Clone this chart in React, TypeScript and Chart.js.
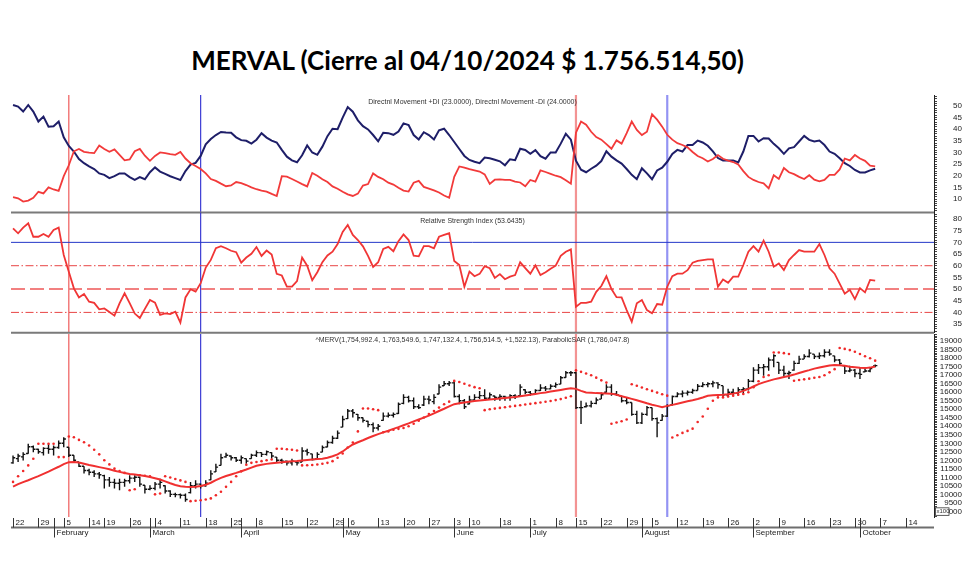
import React, { useEffect, useRef } from "react";
import { Chart, registerables } from "chart.js";

Chart.register(...registerables);

// ---------------- DATA (one entry per trading day, from 22 Jan 2024 to 04 Oct 2024) ----------------
const diPlus = [
  50.4, 49.7, 47.6, 50.4, 47.6, 43.3, 45.4, 41.1, 41.3, 43.3,
  36.5, 32.8, 30.4, 27.2, 25.4, 24.0, 22.9, 21.0, 20.4, 19.0,
  19.8, 21.0, 21.0, 19.4, 18.2, 19.4, 18.5, 21.5, 23.6, 21.8,
  20.8, 19.8, 19.0, 18.2, 22.0, 24.8, 25.5, 28.5, 33.5, 35.8,
  37.5, 38.8, 38.6, 38.5, 36.5, 35.3, 35.0, 33.8, 35.5, 38.3,
  36.4, 35.1, 34.3, 31.1, 28.2, 26.6, 25.8, 28.8, 33.0, 30.0,
  29.0, 32.5, 37.0, 40.2, 40.0, 45.0, 49.5, 47.5, 43.8, 41.3,
  39.9, 37.5, 34.8, 38.5, 38.3, 37.6, 39.0, 42.5, 41.8, 37.5,
  35.6, 38.7, 37.5, 35.6, 39.5, 40.2, 37.5, 34.5, 31.5, 28.5,
  26.8, 26.0, 25.4, 27.8, 27.5, 26.9, 26.2, 24.5, 27.1, 26.7,
  31.6, 31.1, 29.4, 31.0, 28.4, 27.3, 30.0, 30.0, 33.8, 38.0,
  35.5, 26.5, 22.6, 21.5, 23.0, 24.3, 26.3, 30.5, 28.2, 26.6,
  25.2, 22.9, 20.4, 18.5, 23.2, 21.0, 18.5, 22.3, 23.5, 26.0,
  29.4, 31.1, 30.4, 33.2, 33.2, 35.1, 34.3, 32.9, 30.5, 27.6,
  26.6, 26.6, 26.6, 25.7, 30.4, 37.1, 37.1, 34.7, 36.1, 36.0,
  33.7, 31.8, 29.4, 31.8, 32.3, 34.7, 37.1, 35.4, 34.7, 35.1,
  33.2, 30.4, 29.4, 27.5, 25.4, 24.2, 22.5, 21.4, 21.4, 22.3,
  23.0,
];

const diMinus = [
  10.8, 10.3, 8.9, 9.3, 10.5, 13.1, 12.4, 15.0, 14.1, 13.5,
  19.8, 24.5, 30.5, 31.5, 30.3, 29.9, 29.7, 33.0, 31.5, 30.3,
  31.3, 29.0, 26.6, 27.0, 30.5, 31.5, 28.6, 26.4, 28.5, 30.0,
  29.7, 29.3, 29.0, 30.2, 27.4, 25.4, 24.2, 22.9, 21.0, 18.6,
  17.8, 16.6, 15.5, 15.8, 17.3, 16.8, 16.0, 15.0, 14.2, 13.6,
  13.2, 12.2, 11.3, 19.8, 19.6, 18.6, 17.5, 16.4, 15.4, 21.2,
  20.0, 18.5, 17.3, 15.4, 14.4, 13.1, 12.0, 11.3, 12.3, 15.8,
  16.4, 21.0, 19.5, 18.5, 17.0, 16.2, 14.8, 13.6, 13.2, 17.0,
  17.8, 15.2, 14.5, 13.7, 12.8, 11.5, 10.5, 19.5, 24.0, 23.5,
  22.8, 22.3, 21.8, 20.6, 16.5, 18.3, 18.4, 18.2, 18.2, 17.5,
  17.1, 15.5, 18.2, 17.5, 22.3, 21.6, 20.8, 20.0, 19.4, 18.1,
  16.6, 38.5, 43.3, 41.9, 38.9, 36.6, 35.5, 33.6, 31.6, 35.2,
  33.8, 38.3, 43.3, 39.7, 37.5, 38.9, 46.4, 44.1, 41.1, 37.6,
  35.5, 34.0, 33.2, 32.2, 30.2, 28.5, 27.5, 26.1, 27.2, 28.9,
  27.3, 26.5, 25.9, 24.8, 22.0, 19.5, 18.2, 17.3, 16.7, 14.6,
  20.2, 18.6, 23.3, 21.5, 20.7, 19.5, 18.6, 20.2, 18.3, 17.6,
  18.2, 20.4, 20.4, 22.7, 27.4, 26.6, 28.9, 27.4, 26.4, 24.3,
  24.0,
];

const rsi = [
  76.0, 73.9, 76.3, 78.2, 72.4, 72.4, 73.6, 72.4, 75.3, 76.3,
  64.6, 57.4, 50.3, 46.4, 47.9, 44.6, 44.1, 41.3, 41.7, 40.2,
  38.6, 43.9, 48.2, 44.0, 39.5, 37.6, 41.5, 45.3, 44.2, 38.9,
  39.6, 39.3, 40.3, 35.6, 46.4, 49.9, 48.9, 52.5, 59.2, 62.5,
  67.5, 68.4, 67.5, 66.4, 65.8, 61.3, 63.5, 65.1, 68.0, 64.2,
  66.5, 64.8, 56.5, 55.8, 51.0, 51.0, 53.4, 63.5, 60.0, 53.8,
  57.2, 61.5, 64.4, 66.0, 69.3, 74.5, 77.5, 73.2, 71.0, 68.3,
  64.2, 59.5, 61.5, 67.2, 68.1, 66.2, 70.5, 73.4, 71.0, 64.3,
  64.0, 68.4, 68.4, 67.5, 72.4, 73.2, 73.9, 62.0, 60.3, 51.0,
  57.5, 55.5, 56.5, 59.8, 58.9, 54.8, 56.4, 54.2, 55.3, 56.0,
  61.5, 59.0, 56.6, 60.2, 56.0, 57.2, 58.7, 60.0, 64.2, 66.0,
  67.0, 42.4, 44.1, 44.1, 44.6, 48.8, 51.3, 55.5, 50.0, 46.5,
  46.4, 41.0, 36.0, 43.9, 45.3, 41.0, 39.6, 43.6, 43.3, 51.0,
  55.5, 56.6, 56.6, 58.1, 61.3, 62.1, 62.4, 62.7, 62.7, 51.0,
  54.1, 52.7, 55.3, 55.3, 60.3, 66.0, 68.4, 66.0, 70.7, 66.0,
  59.6, 61.0, 58.1, 62.4, 64.6, 66.7, 66.0, 66.0, 66.0, 69.3,
  64.6, 58.9, 56.6, 52.3, 48.0, 49.7, 45.7, 50.4, 48.6, 53.9,
  53.6,
];

// ^MERV prices (x100)
const opens = [
  11850, 12100, 12200, 12400, 12800, 12650, 12450, 12700, 12650, 12750,
  13000, 12770, 12300, 11900, 11650, 11400, 11300, 11200, 11100, 10850,
  10700, 10650, 10700, 10800, 10950, 11000, 10530, 10300, 10350, 10600,
  10500, 10200, 10000, 9980, 9950, 10100, 10500, 10600, 10500, 10850,
  11320, 11700, 12200, 12250, 12150, 12000, 12100, 12100, 12300, 12450,
  12350, 12450, 12190, 12000, 11950, 11850, 11900, 11900, 12550, 12380,
  12100, 12480, 12780, 13050, 13300, 13950, 14450, 14900, 14700, 14500,
  14300, 14100, 13900, 14350, 14600, 14650, 14750, 15350, 15700, 15500,
  15150, 15250, 15600, 15450, 15900, 16380, 16500, 16550, 15750, 15500,
  15310, 15550, 15700, 15800, 15650, 15780, 15700, 15750, 15700, 15800,
  15800, 16150, 16000, 15900, 16100, 16250, 16200, 16350, 16480, 16870,
  17150, 17150, 15100, 15150, 15200, 15350, 15600, 16000, 16300, 15900,
  15780, 15500, 15400, 14700, 14200, 14700, 15100, 14450, 14350, 14600,
  15250, 15750, 15900, 15950, 16000, 16100, 16350, 16450, 16500, 16550,
  16390, 15850, 16000, 15950, 16150, 16200, 16650, 17300, 17450, 17500,
  17900, 17760, 17300, 17100, 17300, 17700, 17950, 18100, 18240, 18100,
  18150, 18350, 18140, 17900, 17550, 17250, 17300, 17100, 17200, 17250,
  17550,
];

const highs = [
  12290, 12380, 12480, 12970, 12870, 12680, 12770, 12970, 12870, 13160,
  13360, 12770, 12300, 11900, 11650, 11500, 11410, 11310, 11150, 11020,
  10920, 10920, 10920, 11120, 11120, 11020, 10540, 10540, 10730, 10920,
  10540, 10240, 10100, 10050, 10050, 10730, 10830, 10630, 10830, 11410,
  11800, 12380, 12450, 12290, 12190, 12290, 12100, 12390, 12580, 12480,
  12580, 12480, 12190, 12090, 11990, 12090, 11900, 12770, 12680, 12390,
  12480, 12870, 13160, 13450, 13750, 14620, 15010, 15010, 14720, 14520,
  14330, 14230, 14140, 14810, 14810, 14810, 15400, 15890, 15790, 15690,
  15300, 15790, 15790, 15890, 16470, 16670, 16670, 16670, 15890, 15600,
  15790, 15890, 16080, 16180, 15980, 15790, 15890, 15790, 15890, 15890,
  16470, 16180, 16080, 16180, 16470, 16370, 16470, 16570, 16960, 17250,
  17250, 17200, 15500, 15400, 15500, 15690, 15980, 16470, 16470, 16080,
  15790, 15690, 15400, 14910, 14810, 15200, 15110, 14520, 14720, 15300,
  15810, 16000, 16100, 16100, 16200, 16490, 16590, 16590, 16680, 16590,
  16390, 16200, 16200, 16300, 16300, 16780, 17470, 17660, 17660, 18050,
  18240, 17760, 17560, 17270, 17850, 18140, 18240, 18530, 18240, 18340,
  18530, 18530, 18140, 17950, 17560, 17560, 17370, 17470, 17470, 17470,
  17635,
];

const lows = [
  11800, 11900, 11990, 12380, 12480, 12380, 12290, 12380, 12290, 12680,
  12770, 12190, 11900, 11600, 11220, 11120, 11020, 10920, 10340, 10440,
  10340, 10240, 10440, 10630, 10730, 10440, 10050, 10240, 10240, 10340,
  10050, 9850, 9830, 9760, 9560, 10050, 10340, 10340, 10440, 10830,
  11310, 11700, 12150, 11990, 11900, 11800, 11800, 12090, 12190, 12190,
  12290, 12090, 11900, 11800, 11700, 11700, 11700, 11900, 12290, 11990,
  12090, 12480, 12770, 12970, 13260, 13940, 14430, 14520, 14330, 14230,
  13940, 13650, 13750, 14330, 14520, 14520, 14720, 15300, 15400, 15010,
  15010, 15200, 15300, 15300, 15890, 16370, 16370, 15690, 15300, 15010,
  15300, 15500, 15600, 15500, 15600, 15500, 15500, 15500, 15500, 15600,
  15790, 15890, 15790, 15890, 16080, 16080, 16180, 16270, 16470, 16860,
  16960, 15010, 14140, 15110, 15110, 15300, 15600, 15980, 15790, 15790,
  15400, 15300, 14620, 14140, 14140, 14620, 14330, 13360, 14330, 14550,
  15220, 15710, 15710, 15810, 15910, 16100, 16300, 16300, 16300, 16200,
  15710, 15710, 15810, 15810, 15910, 16100, 16590, 17070, 16970, 17270,
  17470, 17070, 16880, 16780, 17270, 17660, 17950, 18050, 17950, 17950,
  18050, 18140, 17760, 17560, 17070, 17170, 16880, 16780, 17170, 17170,
  17471,
];

const closes = [
  12150, 12250, 12350, 12800, 12650, 12500, 12700, 12650, 12750, 13000,
  13250, 12300, 12000, 11650, 11400, 11300, 11200, 11150, 10850, 10700,
  10650, 10700, 10800, 10950, 11000, 10600, 10300, 10350, 10600, 10700,
  10200, 10000, 9980, 9950, 9700, 10500, 10600, 10500, 10650, 11200,
  11600, 12150, 12300, 12150, 12000, 12150, 11950, 12300, 12450, 12350,
  12500, 12250, 12000, 11950, 11850, 11950, 11850, 12550, 12450, 12050,
  12350, 12750, 13050, 13300, 13600, 14400, 14900, 14800, 14500, 14350,
  14100, 13900, 14000, 14600, 14650, 14700, 15300, 15700, 15500, 15150,
  15100, 15600, 15550, 15700, 16300, 16500, 16550, 15750, 15500, 15150,
  15550, 15700, 15800, 15650, 15850, 15700, 15750, 15700, 15800, 15750,
  16300, 16000, 15900, 16100, 16250, 16200, 16350, 16450, 16850, 17150,
  17150, 15100, 15100, 15200, 15350, 15550, 15850, 16300, 15900, 15850,
  15500, 15400, 14700, 14200, 14700, 15100, 14450, 14200, 14600, 15200,
  15750, 15900, 15950, 16000, 16100, 16350, 16450, 16500, 16550, 16450,
  15850, 16000, 15950, 16150, 16200, 16650, 17300, 17450, 17500, 17900,
  18150, 17300, 17100, 17150, 17700, 17950, 18100, 18300, 18100, 18150,
  18350, 18250, 17900, 17700, 17250, 17300, 17100, 17050, 17250, 17400,
  17565,
];

const movingAverage = [
  10450, 10600, 10720, 10830, 10950, 11070, 11200, 11330, 11480, 11620,
  11780, 11890, 11900, 11870, 11800, 11720, 11660, 11600, 11540, 11470,
  11390, 11320, 11250, 11200, 11160, 11120, 11080, 11020, 10950, 10870,
  10760, 10650, 10550, 10470, 10440, 10430, 10440, 10490, 10560, 10680,
  10830, 10970, 11080, 11170, 11260, 11360, 11460, 11570, 11680, 11740,
  11790, 11830, 11860, 11890, 11920, 11940, 11960, 11990, 12020, 12050,
  12070, 12090, 12150, 12240, 12350, 12520, 12740, 12930, 13060, 13180,
  13310, 13430, 13540, 13640, 13740, 13850, 13950, 14060, 14170, 14290,
  14400, 14510, 14630, 14760, 14900, 15030, 15170, 15300, 15350, 15400,
  15440, 15480, 15510, 15540, 15570, 15600, 15630, 15660, 15690, 15720,
  15760, 15810, 15850, 15900, 15950, 15990, 16040, 16090, 16140, 16190,
  16240, 16200, 16080, 15990, 15970, 15950, 15940, 15930, 15920, 15850,
  15770, 15690, 15610, 15530, 15440, 15350, 15270, 15200, 15120, 15200,
  15260, 15330, 15400, 15470, 15530, 15600, 15690, 15790, 15820, 15840,
  15850, 15880, 15920, 15980, 16080, 16200, 16340, 16480, 16580, 16670,
  16760, 16830, 16900, 16960, 17040, 17130, 17220, 17300, 17390, 17460,
  17520, 17570, 17600, 17590, 17560, 17500, 17470, 17440, 17420, 17450,
  17520,
];

const parabolicSar = [
  10730, 11060, 11370, 11700, 12090, 12970, 12970, 12970, 12970, 12190,
  12190, 13400, 13360, 13200, 13060, 12870, 12620, 12350, 12000, 11760,
  11510, 11370, 11260, 10240, 10300, 11120, 11090, 11060, 10000, 10050,
  11060, 10990, 10900, 10820, 10730, 9600, 9620, 9650, 9700, 9760,
  9950, 10150, 10440, 10730, 11060, 11350, 11740, 11850, 11900, 11950,
  12000, 12050, 12680, 12680, 12650, 12620, 12580, 11700, 11710, 11720,
  11750, 11800, 11850, 11950, 12150, 12400, 12750, 13050, 13700, 15050,
  15050, 15000, 14950, 13650, 13700, 13800, 13850, 13900, 14000, 14150,
  14330, 14520, 14720, 14900, 15100, 15300, 15450, 16670, 16600, 16500,
  16400, 16300, 16240, 14950, 15000, 15040, 15080, 15120, 15160, 15200,
  15240, 15280, 15320, 15360, 15400, 15440, 15490, 15540, 15600, 15680,
  15770, 17290, 17200, 17100, 17000, 16860, 16700, 16570, 14150, 14220,
  14300, 14400, 16470, 16380, 16280, 16180, 16080, 15980, 15880, 15800,
  13340, 13470, 13610, 13730, 13860, 14250, 14580, 15030, 15500, 15700,
  15700, 15750, 15800, 15850, 15900, 16000, 16300, 16650, 16900, 17000,
  18340, 18340, 18300, 18250, 16680, 16720, 16760, 16800, 16850, 16900,
  17000, 17170, 17360, 18600, 18550, 18480, 18380, 18250, 18120, 18000,
  17860,
];

// axis: [trading-day index, label]
const weekTicks: [number, string][] = [
  [0, "22"], [5, "29"], [10, "5"], [15, "14"], [18, "19"], [23, "26"],
  [28, "4"], [33, "11"], [38, "18"], [43, "25"], [48, "8"], [53, "15"],
  [58, "22"], [63, "29"], [66, "6"], [72, "13"], [77, "20"], [82, "27"],
  [87, "3"], [90, "10"], [96, "18"], [102, "1"], [107, "8"], [111, "15"],
  [116, "22"], [121, "29"], [126, "5"], [131, "12"], [136, "19"], [141, "26"],
  [146, "2"], [151, "9"], [156, "16"], [161, "23"], [166, "30"], [171, "7"],
  [176, "14"],
];
const monthTicks: [number, string][] = [
  [8, "February"], [27, "March"], [45, "April"], [65, "May"], [87, "June"],
  [102, "July"], [124, "August"], [146, "September"], [167, "October"],
];
const markerDays = [11, 37, 111, 129];
const rsiLevels = [70, 60, 50, 40];

const dmiTitle = "Directnl Movement +DI (23.0000), Directnl Movement -DI (24.0000)";
const rsiTitle = "Relative Strength Index (53.6435)";
const priceTitle =
  "^MERV(1,754,992.4, 1,763,549.6, 1,747,132.4, 1,756,514.5, +1,522.13), ParabolicSAR (1,786,047.8)";
const mainTitle = "MERVAL (Cierre al 04/10/2024 $ 1.756.514,50)";

// ---------------- STYLES ----------------
const X_MIN = -0.4;
const X_MAX = 181.6;
const FONT = "'Liberation Sans', Arial, sans-serif";
const markerStyles = [
  { color: "#ef5b5b", width: 1.2 },
  { color: "#2b2bd0", width: 1.1 },
  { color: "rgba(240,120,120,0.8)", width: 2.2 },
  { color: "rgba(120,120,240,0.8)", width: 2.2 },
];
const rsiLevelStyles = [
  { color: "#2236c8", width: 1, dash: [] as number[] },
  { color: "#e84545", width: 1, dash: [8, 2.5, 1.5, 2.5] },
  { color: "#f28080", width: 2, dash: [14, 5] },
  { color: "#e84545", width: 1, dash: [8, 2.5, 1.5, 2.5] },
];

const toPoints = (values: number[]) => values.map((v, i) => ({ x: i, y: v }));

const markersPlugin = {
  id: "markers",
  beforeDatasetsDraw(chart: any) {
    const { ctx, chartArea, scales } = chart;
    ctx.save();
    markerDays.forEach((d, k) => {
      const px = scales.x.getPixelForValue(d);
      ctx.strokeStyle = markerStyles[k].color;
      ctx.lineWidth = markerStyles[k].width;
      ctx.beginPath();
      ctx.moveTo(px, chartArea.top);
      ctx.lineTo(px, chartArea.bottom);
      ctx.stroke();
    });
    ctx.restore();
  },
};

const separatorPlugin = {
  id: "separator",
  afterDraw(chart: any) {
    const { ctx, chartArea } = chart;
    ctx.save();
    ctx.strokeStyle = "#7a7a7a";
    ctx.lineWidth = 2;
    ctx.beginPath();
    ctx.moveTo(chartArea.left, chartArea.bottom);
    ctx.lineTo(chartArea.right, chartArea.bottom);
    ctx.stroke();
    ctx.restore();
  },
};

const rsiLevelsPlugin = {
  id: "rsiLevels",
  beforeDatasetsDraw(chart: any) {
    const { ctx, chartArea, scales } = chart;
    ctx.save();
    rsiLevels.forEach((lvl, k) => {
      const st = rsiLevelStyles[k];
      const py = scales.y.getPixelForValue(lvl);
      ctx.strokeStyle = st.color;
      ctx.lineWidth = st.width;
      ctx.setLineDash(st.dash);
      ctx.beginPath();
      ctx.moveTo(chartArea.left, py);
      ctx.lineTo(chartArea.right, py);
      ctx.stroke();
    });
    ctx.restore();
  },
};

const ohlcPlugin = {
  id: "ohlc",
  beforeDatasetsDraw(chart: any) {
    const { ctx, scales } = chart;
    const { x, y } = scales;
    ctx.save();
    ctx.strokeStyle = "#111";
    ctx.lineWidth = 1.4;
    ctx.beginPath();
    for (let i = 0; i < closes.length; i++) {
      const px = x.getPixelForValue(i);
      ctx.moveTo(px, y.getPixelForValue(highs[i]));
      ctx.lineTo(px, y.getPixelForValue(lows[i]));
      const yo = y.getPixelForValue(opens[i]);
      ctx.moveTo(px - 2.2, yo);
      ctx.lineTo(px, yo);
      const yc = y.getPixelForValue(closes[i]);
      ctx.moveTo(px, yc);
      ctx.lineTo(px + 2.2, yc);
    }
    ctx.stroke();
    ctx.restore();
  },
};

const dateAxisPlugin = {
  id: "dateAxis",
  afterDraw(chart: any) {
    const { ctx, chartArea, scales } = chart;
    const x = scales.x;
    const top = chartArea.bottom;
    const axisY = top + 10.5;
    ctx.save();
    ctx.strokeStyle = "#6e6e6e";
    ctx.lineWidth = 2;
    ctx.beginPath();
    ctx.moveTo(chartArea.left, axisY);
    ctx.lineTo(chartArea.right, axisY);
    ctx.stroke();

    ctx.strokeStyle = "#333";
    ctx.lineWidth = 1;
    ctx.fillStyle = "#222";
    ctx.font = `8px ${FONT}`;
    ctx.textAlign = "left";
    ctx.textBaseline = "middle";
    weekTicks.forEach(([d, label]) => {
      const px = Math.round(x.getPixelForValue(d)) + 0.5;
      ctx.beginPath();
      ctx.moveTo(px, top + 1);
      ctx.lineTo(px, axisY);
      ctx.stroke();
      ctx.fillText(label, px + 2, top + 5.5);
    });
    monthTicks.forEach(([d, label]) => {
      const px = Math.round(x.getPixelForValue(d)) + 0.5;
      ctx.beginPath();
      ctx.moveTo(px, top + 1);
      ctx.lineTo(px, axisY + 10);
      ctx.stroke();
      ctx.fillText(label, px + 2, axisY + 5.5);
    });

    // x100 multiplier box
    const bx = chartArea.right + 1;
    const by = scales.y.getPixelForValue(9000) - 4;
    ctx.fillStyle = "#fff";
    ctx.fillRect(bx, by, 14, 8);
    ctx.strokeStyle = "#333";
    ctx.lineWidth = 0.8;
    ctx.strokeRect(bx + 0.5, by + 0.5, 13.5, 7.5);
    ctx.fillStyle = "#333";
    ctx.font = `6px ${FONT}`;
    ctx.fillText("x100", bx + 1.5, by + 4.3);
    ctx.restore();
  },
};

function yAxis(min: number, max: number, step: number, labelMin: number, labelMax: number, labelStep: number, pad: number) {
  const values: number[] = [];
  for (let v = Math.ceil(min / step) * step; v <= max; v += step) values.push(v);
  return {
    type: "linear",
    position: "right",
    min,
    max,
    afterBuildTicks: (s: any) => {
      s.ticks = values.map((v) => ({ value: v }));
    },
    afterFit: (s: any) => {
      s.width = 28;
      s.paddingTop = 0;
      s.paddingBottom = 0;
    },
    ticks: {
      autoSkip: false,
      crossAlign: "far",
      padding: pad,
      color: "#222",
      font: { family: FONT, size: 8 },
      callback: (v: any) => {
        const n = Number(v);
        return n >= labelMin && n <= labelMax && Math.abs(n % labelStep) < 1e-6 ? String(n) : "";
      },
    },
    grid: { drawOnChartArea: false, drawTicks: true, tickLength: 3, color: "#444", lineWidth: 1 },
    border: { display: true, color: "#222", width: 1 },
  };
}

function baseOptions(padTop: number, padBottom: number, y: any) {
  return {
    responsive: false,
    animation: false,
    devicePixelRatio: 1,
    events: [],
    layout: { padding: { left: 11, right: 18, top: padTop, bottom: padBottom } },
    plugins: { legend: { display: false }, tooltip: { enabled: false }, title: { display: false } },
    scales: {
      x: { type: "linear", min: X_MIN, max: X_MAX, display: false },
      y,
    },
  } as any;
}

function buildDmi(canvas: HTMLCanvasElement) {
  return new Chart(canvas, {
    type: "line",
    data: {
      datasets: [
        { data: toPoints(diMinus), borderColor: "#f23a3a", borderWidth: 1.8, pointRadius: 0, tension: 0 },
        { data: toPoints(diPlus), borderColor: "#1e1e68", borderWidth: 2, pointRadius: 0, tension: 0 },
      ],
    },
    options: baseOptions(7, 3.5, yAxis(4.2, 54.7, 1, 10, 50, 5, 16)),
    plugins: [markersPlugin, separatorPlugin],
  } as any);
}

function buildRsi(canvas: HTMLCanvasElement) {
  return new Chart(canvas, {
    type: "line",
    data: {
      datasets: [{ data: toPoints(rsi), borderColor: "#f03535", borderWidth: 1.8, pointRadius: 0, tension: 0 }],
    },
    options: baseOptions(2.5, 3.3, yAxis(31.3, 82.8, 1, 35, 80, 5, 16)),
    plugins: [markersPlugin, rsiLevelsPlugin, separatorPlugin],
  } as any);
}

function buildPrice(canvas: HTMLCanvasElement) {
  return new Chart(canvas, {
    type: "line",
    data: {
      datasets: [
        { data: toPoints(movingAverage), borderColor: "#f03030", borderWidth: 2, pointRadius: 0, tension: 0 },
        {
          data: toPoints(parabolicSar),
          showLine: false,
          pointRadius: 1.3,
          pointBorderWidth: 0,
          pointBackgroundColor: "#f02828",
          borderColor: "#f02828",
        },
      ],
    },
    options: baseOptions(2.7, 46, yAxis(8667, 19426, 100, 9000, 19000, 500, 2.8)),
    plugins: [markersPlugin, ohlcPlugin, dateAxisPlugin],
  } as any);
}

function Panel({ top, height, build }: { top: number; height: number; build: (c: HTMLCanvasElement) => Chart }) {
  const ref = useRef<HTMLCanvasElement>(null);
  useEffect(() => {
    const chart = build(ref.current as HTMLCanvasElement);
    return () => chart.destroy();
  }, []);
  return (
    <canvas
      ref={ref}
      width={980}
      height={height}
      style={{ position: "absolute", left: 0, top, width: 980, height }}
    />
  );
}

const captionStyle = (top: number): React.CSSProperties => ({
  position: "absolute",
  left: 11,
  width: 923,
  top,
  textAlign: "center",
  font: `7px ${FONT}`,
  lineHeight: "9px",
  color: "#333",
  whiteSpace: "nowrap",
});

export default function App() {
  return (
    <div
      style={{
        position: "fixed",
        left: 0,
        top: 0,
        width: 980,
        height: 563,
        background: "#fff",
        overflow: "hidden",
      }}
    >
      <div
        style={{
          position: "absolute",
          left: 0,
          top: 44,
          width: 935,
          textAlign: "center",
          fontFamily: "Lato, 'Open Sans', sans-serif",
          fontWeight: 700,
          fontSize: 26,
          lineHeight: "32px",
          color: "#000",
          whiteSpace: "nowrap",
        }}
      >
        {mainTitle}
      </div>
      <Panel top={88} height={128} build={buildDmi} />
      <Panel top={210} height={126} build={buildRsi} />
      <Panel top={330} height={233} build={buildPrice} />
      <div style={captionStyle(97)}>{dmiTitle}</div>
      <div style={captionStyle(215.5)}>{rsiTitle}</div>
      <div style={captionStyle(335)}>{priceTitle}</div>
    </div>
  );
}
